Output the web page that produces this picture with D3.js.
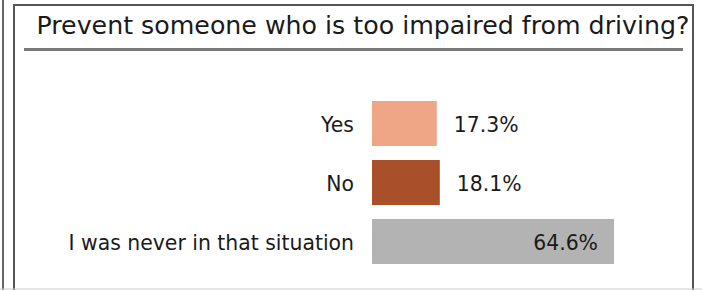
<!DOCTYPE html>
<html>
<head>
<meta charset="utf-8">
<script src="https://cdn.jsdelivr.net/npm/d3@7"></script>
<style>
  body { margin: 0; background: #fff; }
  svg text { font-family: "DejaVu Sans", Verdana, sans-serif; fill: #1a1a1a; }
</style>
</head>
<body>
<div id="chart"></div>
<script>
var title = "Prevent someone who is too impaired from driving?",
    categories = ["Yes", "No", "I was never in that situation"],
    values = [17.3, 18.1, 64.6],
    colors = ["#efa686", "#a9502a", "#b3b3b3"];

var W = 702, H = 290;
var svg = d3.select("#chart").append("svg").attr("width", W).attr("height", H);

// neighbour panel edge + frame
svg.append("line").attr("x1", 3).attr("x2", 3).attr("y1", 0).attr("y2", H)
    .attr("stroke", "#666").attr("stroke-width", 2);
svg.append("rect").attr("x", 14).attr("y", 5).attr("width", 679).attr("height", 290)
    .attr("fill", "#fff").attr("stroke", "#555").attr("stroke-width", 2);
svg.append("line").attr("x1", 0).attr("x2", W).attr("y1", 289).attr("y2", 289)
    .attr("stroke", "#ccc").attr("stroke-width", 1);

svg.append("text").attr("x", 363).attr("y", 34).attr("text-anchor", "middle")
    .attr("font-size", 25.5).attr("textLength", 653).attr("lengthAdjust", "spacingAndGlyphs")
    .text(title);
svg.append("line").attr("x1", 24).attr("x2", 683).attr("y1", 49.5).attr("y2", 49.5)
    .attr("stroke", "#7a7a7a").attr("stroke-width", 3);

var x = d3.scaleLinear().domain([0, 100]).range([372, 746.6]);
var y = d3.scaleBand().domain(categories).range([101, 264]).paddingInner(0.237).paddingOuter(0);

var g = svg.append("g");
g.selectAll("rect.bar").data(values).join("rect").attr("class", "bar")
    .attr("x", x(0)).attr("y", (d, i) => y(categories[i]))
    .attr("width", d => x(d) - x(0)).attr("height", y.bandwidth())
    .attr("fill", (d, i) => colors[i]);

g.selectAll("text.cat").data(categories).join("text").attr("class", "cat")
    .attr("x", 354).attr("y", d => y(d) + y.bandwidth() / 2).attr("dy", "0.4em")
    .attr("text-anchor", "end").attr("font-size", 20.4)
    .text(d => d);

g.selectAll("text.val").data(values).join("text").attr("class", "val")
    .attr("x", d => d > 40 ? x(d) - 16 : x(d) + 17)
    .attr("y", (d, i) => y(categories[i]) + y.bandwidth() / 2).attr("dy", "0.4em")
    .attr("text-anchor", d => d > 40 ? "end" : "start").attr("font-size", 20.4)
    .text(d => d3.format(".1f")(d) + "%");
</script>
</body>
</html>
